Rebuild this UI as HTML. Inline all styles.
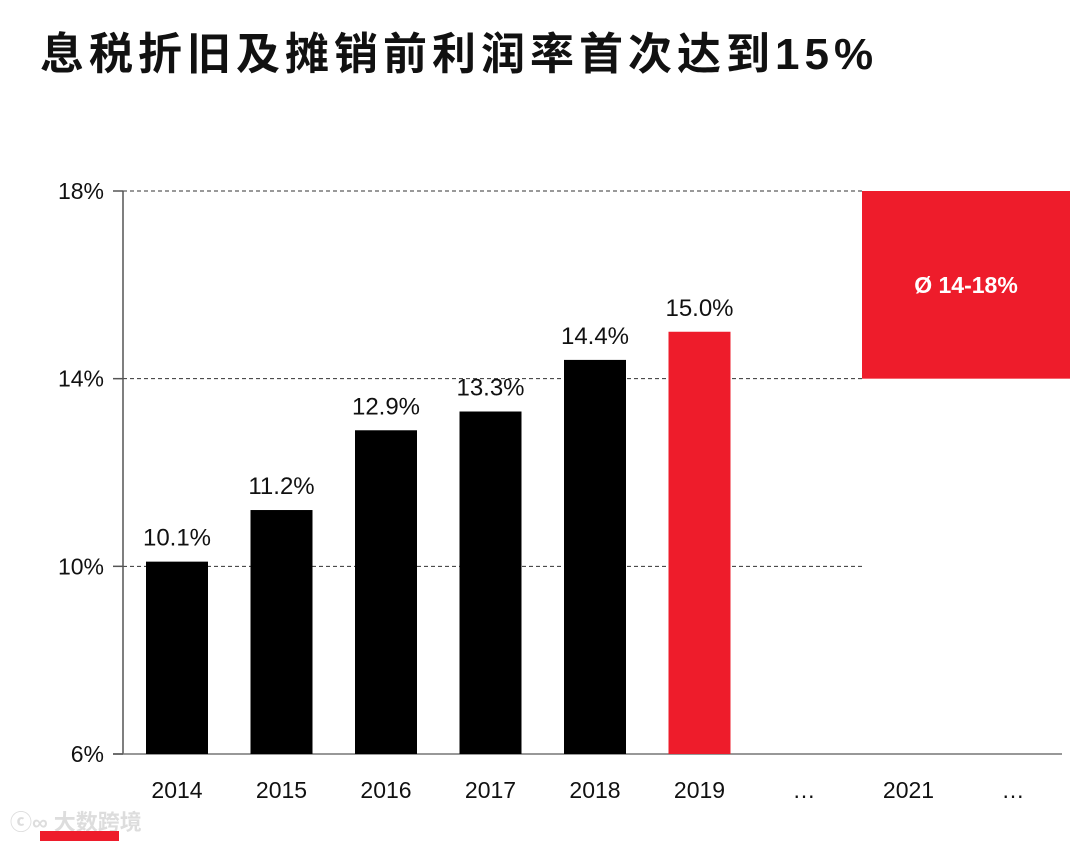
<!DOCTYPE html>
<html><head><meta charset="utf-8">
<style>
html,body{margin:0;padding:0;background:#fff;}
body{width:1080px;height:841px;overflow:hidden;position:relative;font-family:"Liberation Sans","Noto Sans CJK SC",sans-serif;}
h1{position:absolute;left:40px;top:18px;margin:0;font-size:44px;font-weight:bold;color:#111;letter-spacing:5px;white-space:nowrap;}
</style></head><body>
<h1>息税折旧及摊销前利润率首次达到15%</h1>
<svg id="chart" width="1080" height="841" style="position:absolute;left:0;top:0"></svg>
<script>
const categories=["2014","2015","2016","2017","2018","2019","…","2021","…"];
const values=[10.1,11.2,12.9,13.3,14.4,15.0];
const valueLabels=["10.1%","11.2%","12.9%","13.3%","14.4%","15.0%"];
const yTicks=[6,10,14,18];
const gridTicks=[10,14,18];
const targetRange=[14,18];
const targetLabel="Ø 14-18%";
const NS="http://www.w3.org/2000/svg";
const svg=document.getElementById('chart');
const y0=754,y1=191,vmin=6,vmax=18;
function y(v){return y0-(v-vmin)/(vmax-vmin)*(y0-y1);}
function xc(i){return 177+i*104.5;}
function mk(tag,attrs,parent){const e=document.createElementNS(NS,tag);for(const k in attrs)e.setAttribute(k,attrs[k]);(parent||svg).appendChild(e);return e;}
gridTicks.forEach(t=>{
  const g=mk('line',{x1:123,x2:862,y1:y(t),y2:y(t),stroke:'#333','stroke-width':1,'stroke-dasharray':'4,3'});
  
  
});
const tb=mk('rect',{x:862,y:y(targetRange[1]),width:208,height:y(targetRange[0])-y(targetRange[1]),fill:'#ee1c2b'});


const tt=mk('text',{x:966,y:(y(targetRange[0])+y(targetRange[1]))/2+8,'text-anchor':'middle','font-size':23,'font-weight':'bold',fill:'#fff','font-family':'Liberation Sans, sans-serif'});
tt.textContent=targetLabel;


const ya=mk('line',{x1:123,x2:123,y1:y(18),y2:y0,stroke:'#555','stroke-width':1.5});


const xa=mk('line',{x1:113,x2:1062,y1:y0,y2:y0,stroke:'#777','stroke-width':1.5});


yTicks.forEach(t=>{
  const tk=mk('line',{x1:113,x2:123,y1:y(t),y2:y(t),stroke:'#555','stroke-width':1.5});
  
  
  const tl=mk('text',{x:104,y:y(t)+8,'text-anchor':'end','font-size':23,fill:'#111','font-family':'Liberation Sans, sans-serif'});
  tl.textContent=t+'%';
  
  
});
values.forEach((v,i)=>{
  const r=mk('rect',{x:xc(i)-31,y:y(v),width:62,height:y0-y(v),fill:i===5?'#ee1c2b':'#000'});
  
  
  const l=mk('text',{x:xc(i),y:y(v)-16,'text-anchor':'middle','font-size':24,fill:'#111','font-family':'Liberation Sans, sans-serif'});
  l.textContent=valueLabels[i];
  
  
});
categories.forEach((c,i)=>{
  const t=mk('text',{x:xc(i),y:798,'text-anchor':'middle','font-size':23,fill:'#111','font-family':'Liberation Sans, sans-serif'});
  t.textContent=c;
  
  
});
const wm=mk('text',{x:10,y:830,'font-size':22,'font-weight':'bold',fill:'#ddd','font-family':'Liberation Sans, Noto Sans CJK SC, sans-serif'});
wm.textContent='ⓒ∞ 大数跨境';


const rs=mk('rect',{x:40,y:831,width:79,height:10,fill:'#ee1c2b'});


</script>
</body></html>
